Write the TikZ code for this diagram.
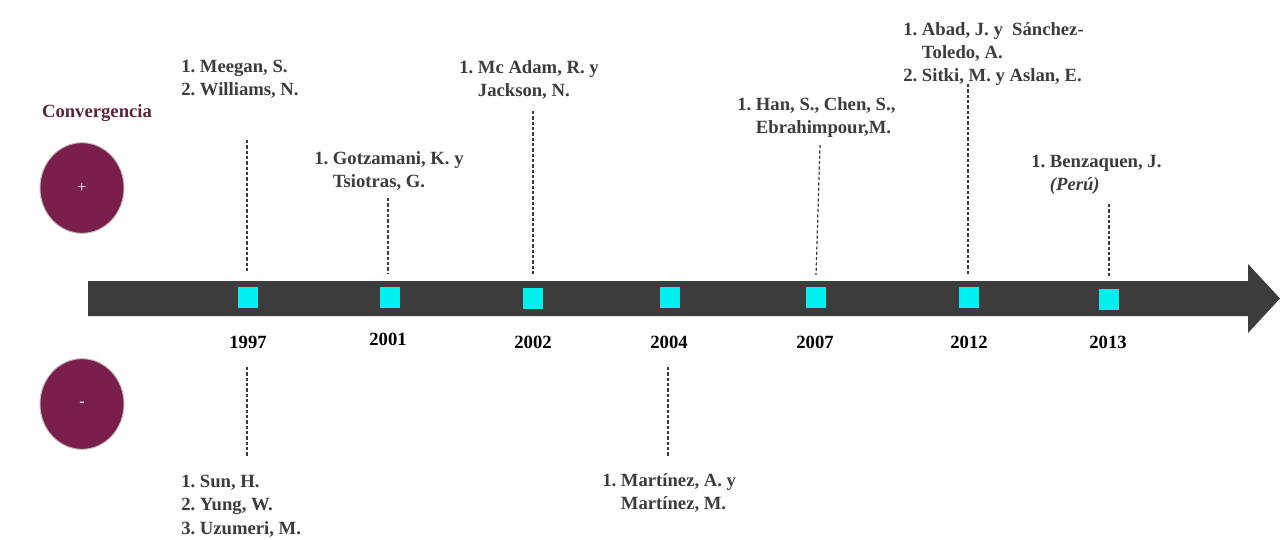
\documentclass[tikz,border=0pt]{standalone}
\usepackage{fontspec}
\setmainfont{Liberation Serif}
\usetikzlibrary{shapes.geometric}
\definecolor{maroon}{RGB}{122,30,76}
\definecolor{titlecol}{RGB}{92,36,60}
\definecolor{barcol}{RGB}{60,60,60}
\definecolor{marker}{RGB}{0,240,240}
\definecolor{txt}{RGB}{60,60,60}
\newcommand\ind{\hspace*{14pt}}
\frenchspacing
\begin{document}
\begin{tikzpicture}[x=0.75pt,y=-0.75pt,
  names/.style={anchor=north west,inner sep=0pt,align=left,text=txt,
    font=\fontsize{14}{17.4}\selectfont\bfseries},
  year/.style={inner sep=0pt,font=\fontsize{14}{17}\selectfont\bfseries,text=black},
  marksq/.style={fill=marker,draw=none,minimum width=15pt,minimum height=15.75pt,inner sep=0pt},
  lead/.style={draw=txt,line width=0.9pt,dash pattern=on 2.4pt off 1.6pt},
  sign/.style={ellipse,fill=maroon,draw=black!25,line width=0.7pt,
    minimum width=63pt,minimum height=68pt,inner sep=0pt,text=white,
    font=\fontsize{12}{14}\selectfont}]
\useasboundingbox (0,0) rectangle (1280,539);

% timeline arrow
\fill[barcol] (88,281) -- (1248,281) -- (1248,264) -- (1280,298.5)
  -- (1248,333) -- (1248,316) -- (88,316) -- cycle;

% legend
\node[font=\fontsize{14}{17}\selectfont\bfseries,text=titlecol] (conv) at (97,113) {Convergencia};
\node[sign] (plus) at (82,188) {+};
\node[sign] (minus) at (82,404) {-};

% year markers
\foreach \n/\x/\y in {1/248/297,2/390/297,3/533/298,4/670/297,5/816/297,6/969/297,7/1109/299}
  \node[marksq] (m\n) at (\x,\y) {};

% year labels
\node[year] (y1) at (248,342) {1997};
\node[year] (y2) at (388,339) {2001};
\node[year] (y3) at (533,342) {2002};
\node[year] (y4) at (669,342) {2004};
\node[year] (y5) at (815,342) {2007};
\node[year] (y6) at (969,342) {2012};
\node[year] (y7) at (1108,342) {2013};

% authors above the line
\node[names] (a1) at (181,60) {1. Meegan, S.\\2. Williams, N.};
\node[names] (a2) at (314,151) {1. Gotzamani, K. y\\\ind Tsiotras, G.};
\node[names] (a3) at (459,60) {1. Mc Adam, R. y\\\ind Jackson, N.};
\node[names] (a5) at (737,97) {1. Han, S., Chen, S.,\\\ind Ebrahimpour,M.};
\node[names] (a6) at (903,22) {1. Abad, J. y\ \ Sánchez-\\\ind Toledo, A.\\2. Sitki, M. y Aslan, E.};
\node[names] (a7) at (1031,155) {1. Benzaquen, J.\\\ind \textit{(Perú)}};

% authors below the line
\node[names] (b1) at (181,475) {1. Sun, H.\\2. Yung, W.\\3. Uzumeri, M.};
\node[names] (b4) at (602,473) {1. Martínez, A. y\\\ind Martínez, M.};

% leader ends
\coordinate (p1t) at (247,140);  \coordinate (p1b) at (247,272);
\coordinate (p2t) at (388,198);  \coordinate (p2b) at (388,273);
\coordinate (p3t) at (533,111);  \coordinate (p3b) at (533,275);
\coordinate (p5t) at (820,145);  \coordinate (p5b) at (816,275);
\coordinate (p6t) at (968,84);   \coordinate (p6b) at (968,274);
\coordinate (p7t) at (1109,204); \coordinate (p7b) at (1109,276);
\coordinate (q1t) at (247,367);  \coordinate (q1b) at (247,456);
\coordinate (q4t) at (668,367);  \coordinate (q4b) at (668,457);

% dashed leaders
\foreach \a/\b in {p1t/p1b,p2t/p2b,p3t/p3b,p5t/p5b,p6t/p6b,p7t/p7b,q1t/q1b,q4t/q4b}
  \draw[lead] (\a) -- (\b);
\end{tikzpicture}
\end{document}
